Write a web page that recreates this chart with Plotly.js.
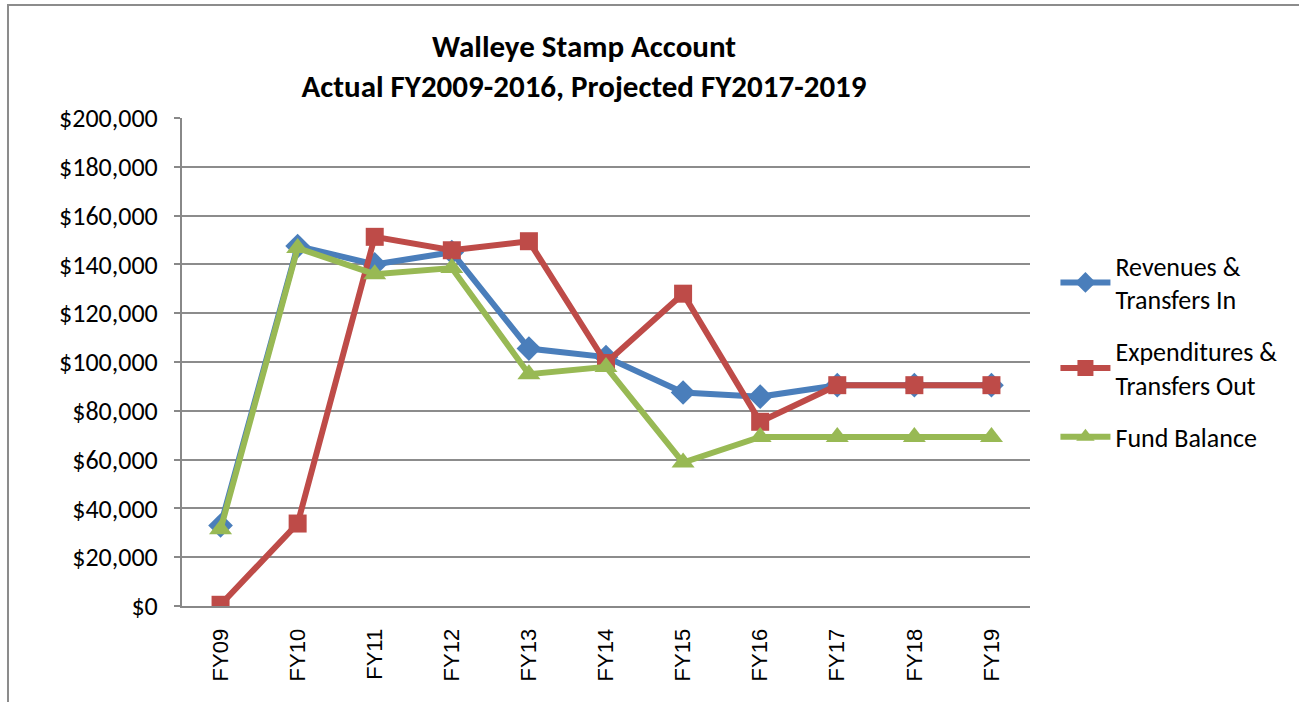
<!DOCTYPE html>
<html>
<head>
<meta charset="utf-8">
<script src="https://cdn.plot.ly/plotly-3.0.1.min.js"></script>
<style>
html,body{margin:0;padding:0;background:#fff;}
#chart{width:1299px;height:702px;}
</style>
</head>
<body>
<div id="chart"></div>
<script>
const categories = ["FY09","FY10","FY11","FY12","FY13","FY14","FY15","FY16","FY17","FY18","FY19"];
const revenues = [33000,147500,140000,145000,105500,102000,87500,85800,90500,90500,90500];
const expenditures = [500,33800,151300,145800,149500,99600,128000,75500,90500,90500,90500];
const fundBalance = [31500,146700,136000,138500,95000,98000,58800,69300,69300,69300,69300];
const yTickVals = [0,20000,40000,60000,80000,100000,120000,140000,160000,180000,200000];
const yTickText = ["$0","$20,000","$40,000","$60,000","$80,000","$100,000","$120,000","$140,000","$160,000","$180,000","$200,000"];

const FONT = "Carlito, 'Liberation Sans Narrow', 'DejaVu Sans Condensed', 'Liberation Sans', Arial, sans-serif";
const XFONT = "'Liberation Sans', Arial, sans-serif";

const traces = [
  {x: categories, y: revenues, name: "Revenues &<br>Transfers In", type: "scatter", mode: "lines+markers",
   legendgroup: "g1",
   line: {color: "#4A7EBB", width: 6}, marker: {symbol: "diamond", size: 19, color: "#4A7EBB"}},
  {x: categories, y: expenditures, name: "Expenditures &<br>Transfers Out", type: "scatter", mode: "lines+markers",
   legendgroup: "g2",
   line: {color: "#BE4B48", width: 6}, marker: {symbol: "square", size: 18, color: "#BE4B48"}},
  {x: categories, y: fundBalance, name: "Fund Balance", type: "scatter", mode: "lines+markers",
   legendgroup: "g3",
   line: {color: "#98B954", width: 6}, marker: {symbol: "triangle-up", size: 20, color: "#98B954"}}
];

const layout = {
  width: 1299, height: 702,
  margin: {l: 182, r: 269, t: 118, b: 96},
  paper_bgcolor: "#fff", plot_bgcolor: "#fff",
  font: {family: FONT, color: "#000"},
  title: {text: "<b>Walleye Stamp Account<br>Actual FY2009-2016, Projected FY2017-2019</b>",
          x: 0.4496, xref: "container", xanchor: "center", y: 0.9195, yref: "container", yanchor: "middle",
          font: {family: FONT, size: 31, color: "#000"}},
  xaxis: {type: "category", tickangle: -90, tickfont: {size: 22, family: XFONT}, showgrid: false,
          showline: true, linecolor: "#888", linewidth: 2, ticks: "", zeroline: false,
          range: [-0.5, 10.5], fixedrange: true, ticklabelstandoff: 12},
  yaxis: {range: [0, 200000], tickvals: yTickVals, ticktext: yTickText, tickfont: {size: 26, family: FONT},
          showgrid: true, gridcolor: "#8c8c8c", gridwidth: 2, showline: true, linecolor: "#888", linewidth: 2,
          ticks: "outside", ticklen: 6, tickcolor: "#888", tickwidth: 2, zeroline: false, fixedrange: true,
          ticklabelstandoff: 11},
  legend: {x: 1.030, xanchor: "left", y: 0.7457, yanchor: "top", font: {size: 26, family: FONT},
           itemwidth: 50, tracegroupgap: 15, bgcolor: "rgba(0,0,0,0)"},
  showlegend: true,
  shapes: [
    {type: "rect", xref: "paper", yref: "paper", x0: -0.2052, x1: 1.5, y0: -0.3, y1: 1.2316,
     line: {color: "#8c8c8c", width: 2}, fillcolor: "rgba(0,0,0,0)", layer: "below"}
  ]
};

Plotly.newPlot("chart", traces, layout, {displayModeBar: false, staticPlot: true});
</script>
</body>
</html>
